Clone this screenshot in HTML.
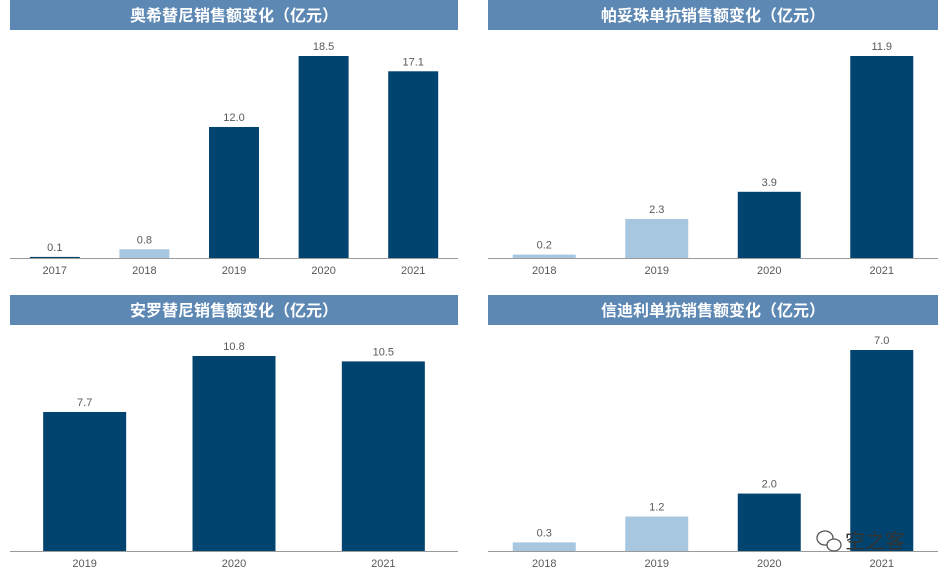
<!DOCTYPE html>
<html><head><meta charset="utf-8">
<style>
body{margin:0;width:947px;height:581px;background:#fff;overflow:hidden;font-family:"Liberation Sans","Noto Sans CJK SC",sans-serif;}
svg{position:absolute;left:0;top:0}
.title{font-family:"Liberation Sans","Noto Sans CJK SC",sans-serif;font-weight:bold;font-size:16px;fill:#fff}
.lbl{font-size:11px;fill:#595959;font-family:"Liberation Sans",sans-serif}
</style></head><body>
<svg id="c" width="947" height="581"></svg>
<script>
// Panel 1: 奥希替尼
const cats1=["2017","2018","2019","2020","2021"];
const vals1=[0.1,0.8,12.0,18.5,17.1];
const light1=[false,true,false,false,false];
// Panel 2: 帕妥珠单抗
const cats2=["2018","2019","2020","2021"];
const vals2=[0.2,2.3,3.9,11.9];
const light2=[true,true,false,false];
// Panel 3: 安罗替尼
const cats3=["2019","2020","2021"];
const vals3=[7.7,10.8,10.5];
const light3=[false,false,false];
// Panel 4: 信迪利单抗
const cats4=["2018","2019","2020","2021"];
const vals4=[0.3,1.2,2.0,7.0];
const light4=[true,true,false,false];

const NS="http://www.w3.org/2000/svg";
const svg=document.getElementById('c');
function mk(tag,attrs,parent){const e=document.createElementNS(NS,tag);for(const k in attrs)e.setAttribute(k,attrs[k]);(parent||svg).appendChild(e);return e;}

const panels=[
 {name:"osimertinib",title:"奥希替尼销售额变化（亿元）",x0:10,x1:458,ty:0,base:258,top:56,cats:cats1,vals:vals1,light:light1,bw:50},
 {name:"pertuzumab",title:"帕妥珠单抗销售额变化（亿元）",x0:488,x1:938,ty:0,base:258,top:56,cats:cats2,vals:vals2,light:light2,bw:63},
 {name:"anlotinib",title:"安罗替尼销售额变化（亿元）",x0:10,x1:458,ty:295,base:551,top:356,cats:cats3,vals:vals3,light:light3,bw:83},
 {name:"sintilimab",title:"信迪利单抗销售额变化（亿元）",x0:488,x1:938,ty:295,base:551,top:350,cats:cats4,vals:vals4,light:light4,bw:63}
];
panels.forEach(p=>{
 const g=mk('g',{});
 
 
 const tb=mk('rect',{x:p.x0,y:p.ty,width:p.x1-p.x0,height:30,fill:'#5e88b4'},g);
 
 
 const tt=mk('text',{x:(p.x0+p.x1)/2,y:p.ty+21,'text-anchor':'middle',class:'title'},g);
 tt.textContent=p.title;
 
 
 const ax=mk('line',{x1:p.x0,x2:p.x1,y1:p.base+0.5,y2:p.base+0.5,stroke:'#9a9a9a','stroke-width':1},g);
 
 
 const n=p.cats.length, step=(p.x1-p.x0)/n;
 const maxV=Math.max(...p.vals);
 const ys=v=>p.base-(p.base-p.top)*v/maxV;
 p.cats.forEach((c,i)=>{
  const cx=p.x0+step*(i+0.5);
  const y=ys(p.vals[i]);
  const b=mk('rect',{x:cx-p.bw/2,y:y,width:p.bw,height:p.base-y,fill:p.light[i]?'#a7c7e0':'#01446f'},g);
  
  
  const vl=mk('text',{x:cx,y:y-6,'text-anchor':'middle',class:'lbl'},g);
  vl.textContent=p.vals[i].toFixed(1);
  
  
  const xl=mk('text',{x:cx,y:p.base+16,'text-anchor':'middle',class:'lbl'},g);
  xl.textContent=c;
  
  
 });
});
// watermark
const wm=mk('g',{});


mk('ellipse',{cx:825,cy:538,rx:8,ry:7,fill:'none',stroke:'#555','stroke-width':1.3},wm);
mk('ellipse',{cx:834,cy:545,rx:7,ry:6,fill:'#fff',stroke:'#555','stroke-width':1.3},wm);
const wt=mk('text',{x:845,y:548,'font-size':20,fill:'#333','font-family':'"Noto Sans CJK SC",sans-serif'},wm);
wt.textContent='空之客';
</script>
</body></html>
